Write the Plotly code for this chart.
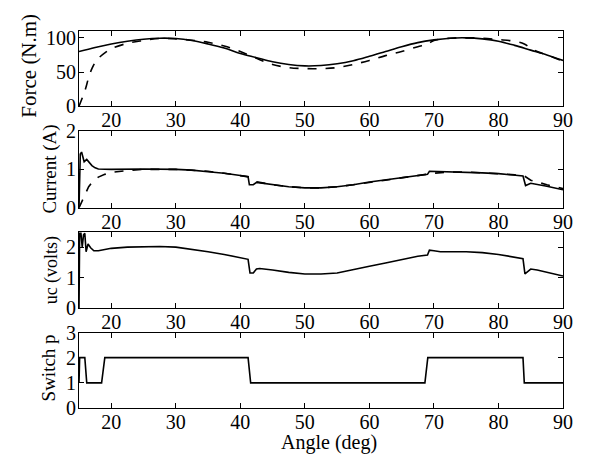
import plotly.graph_objects as go

# ---------------- data ----------------
force_x = [15, 17.5, 20, 22.5, 25, 27.5, 30, 32.5, 35, 37.5, 40, 42.5, 45, 47.5, 50, 52.5, 55, 57.5,
           60, 62.5, 65, 67.5, 70, 72.5, 75, 77.5, 80, 82.5, 85, 87.5, 90]
force_solid = [80, 86, 91, 95, 98, 99.5, 99, 96, 91, 85, 77, 71, 65, 61, 59, 59.5, 62, 66.5,
               73, 80, 87, 93, 97, 99.5, 100, 98.5, 95, 89, 82, 75, 67]

force_dx = [15, 15.5, 16, 16.5, 17, 17.5, 18, 19, 20, 22.5, 25, 27.5, 30, 32.5, 35, 37.5, 40, 42.5,
            45, 47.5, 50, 52.5, 55, 57.5, 60, 62.5, 65, 67.5, 69, 70, 72.5, 75, 77.5, 80, 82.5,
            84, 85, 86, 87.5, 90]
force_dashed = [0, 12, 25, 42, 55, 64, 70, 78, 84, 92, 96, 99, 98.5, 96.5, 93.5, 88, 80, 70,
                61, 56.5, 55, 55, 56.5, 61, 67, 74, 80, 87, 91, 96, 99.5, 100, 99.5, 97.5, 95,
                91, 85, 80, 75, 66]

cur_x = [15, 15.2, 15.4, 15.8, 16.2, 16.6, 17, 17.5, 18, 20, 25, 30, 32.5, 35, 37.5, 40, 41.2,
         41.4, 42, 42.5, 45, 47.5, 50, 52.5, 55, 57.5, 60, 62.5, 65, 67.5, 69, 69.3, 72.5, 75,
         77.5, 80, 82.5, 83.8, 84.2, 85, 87.5, 90]
cur_solid = [0, 1.4, 1.45, 1.2, 1.26, 1.18, 1.1, 1.04, 1.01, 1.0, 1.01, 1.0, 0.98, 0.94, 0.9,
             0.84, 0.81, 0.6, 0.6, 0.66, 0.6, 0.55, 0.52, 0.52, 0.55, 0.6, 0.67, 0.73, 0.78,
             0.84, 0.87, 0.95, 0.94, 0.93, 0.91, 0.89, 0.85, 0.83, 0.58, 0.64, 0.56, 0.47]

cur_dx = [15, 15.5, 16, 16.5, 17, 17.5, 18, 19, 20, 22.5, 25, 30, 32.5, 35, 37.5, 40, 41.5,
          42.5, 45, 47.5, 50, 52.5, 55, 57.5, 60, 62.5, 65, 67.5, 69, 70, 72.5, 75, 77.5, 80,
          82.5, 84, 85, 87.5, 90]
cur_dashed = [0, 0.2, 0.4, 0.55, 0.66, 0.73, 0.8, 0.87, 0.92, 0.97, 1.0, 1.0, 0.98, 0.95, 0.9,
              0.84, 0.8, 0.68, 0.6, 0.55, 0.52, 0.52, 0.55, 0.6, 0.66, 0.72, 0.77, 0.83, 0.86,
              0.9, 0.93, 0.93, 0.91, 0.89, 0.86, 0.83, 0.72, 0.6, 0.5]

uc_x = [15, 15.1, 15.3, 15.5, 15.7, 15.9, 16.1, 16.4, 16.8, 17.3, 18, 19, 20, 22.5, 25, 27.5,
        30, 32.5, 35, 37.5, 40, 41.2, 41.5, 42, 42.5, 43, 45, 47.5, 50, 52.5, 55, 57.5, 60,
        62.5, 65, 67.5, 69, 69.3, 70, 71, 75, 77.5, 80, 82.5, 83.8, 84.1, 84.5, 85, 86, 87.5, 90]
uc_vals = [0, 2.45, 2.45, 2.0, 2.4, 2.45, 1.85, 2.1, 1.98, 1.88, 1.88, 1.93, 1.96, 2.0, 2.02,
           2.02, 2.0, 1.93, 1.85, 1.76, 1.66, 1.6, 1.15, 1.15, 1.28, 1.3, 1.25, 1.17, 1.12,
           1.12, 1.15, 1.25, 1.37, 1.48, 1.6, 1.7, 1.74, 1.9, 1.88, 1.85, 1.85, 1.82, 1.76,
           1.66, 1.62, 1.12, 1.2, 1.28, 1.25, 1.18, 1.05]

sw_x = [15, 15.1, 15.9, 16.2, 18.5, 19.0, 41.2, 41.6, 68.6, 69.05, 83.8, 84.0, 90]
sw_vals = [1, 2, 2, 1, 1, 2, 2, 1, 1, 2, 2, 1, 1]

x_ticks = [20, 30, 40, 50, 60, 70, 80, 90]
y_ticks = [[0, 50, 100], [0, 1, 2], [0, 1, 2], [0, 1, 2, 3]]
y_ranges = [[0, 110], [0, 2], [0, 2.5], [0, 3]]
y_labels = ["Force (N.m)", "Current (A)", "uc (volts)", "Switch p"]
x_label = "Angle (deg)"

# ---------------- figure ----------------
FONT = "Liberation Serif"
fig = go.Figure()
line_solid = dict(color="black", width=1.6)
line_dash = dict(color="black", width=1.6, dash="dash")

fig.add_trace(go.Scatter(x=force_x, y=force_solid, mode="lines", line=dict(line_solid, shape="spline"), xaxis="x", yaxis="y"))
fig.add_trace(go.Scatter(x=force_dx, y=force_dashed, mode="lines", line=dict(line_dash, shape="spline"), xaxis="x", yaxis="y"))
fig.add_trace(go.Scatter(x=cur_x, y=cur_solid, mode="lines", line=line_solid, xaxis="x2", yaxis="y2"))
fig.add_trace(go.Scatter(x=cur_dx, y=cur_dashed, mode="lines", line=line_dash, xaxis="x2", yaxis="y2"))
fig.add_trace(go.Scatter(x=uc_x, y=uc_vals, mode="lines", line=line_solid, xaxis="x3", yaxis="y3"))
fig.add_trace(go.Scatter(x=sw_x, y=sw_vals, mode="lines", line=line_solid, xaxis="x4", yaxis="y4"))

# page body has an 8px default margin -> figure is 584x449 placed at (8, 8)
W, Hfig = 584, 449
L, R, T, B = 71, 29, 19, 49
H = Hfig - T - B
panels_px = [(27, 103), (128, 205.7), (230, 307), (331.7, 408)]   # window pixel rows
domains = [[(408 - b) / H, (408 - t) / H] for t, b in panels_px]

axis_common = dict(showline=True, linecolor="black", linewidth=1, mirror="ticks",
                   ticks="inside", ticklen=5, tickcolor="black", showgrid=False,
                   zeroline=False, tickfont=dict(family=FONT, size=20, color="black"))

layout = dict(width=W, height=Hfig, margin=dict(l=L, r=R, t=T, b=B),
              paper_bgcolor="white", plot_bgcolor="white", showlegend=False,
              font=dict(family=FONT, color="black"))
for i in range(4):
    sx = "" if i == 0 else str(i + 1)
    layout["xaxis" + sx] = dict(axis_common, range=[15, 90], tickvals=x_ticks,
                                domain=[0, 1], anchor="y" + sx, ticklabelstandoff=-4)
    layout["yaxis" + sx] = dict(axis_common, range=y_ranges[i], tickvals=y_ticks[i],
                                domain=domains[i], anchor="x" + sx, ticklabelstandoff=-2)
fig.update_layout(**layout)

label_pos = [(-0.1033, 0.908, 21), (-0.0599, 0.6325, 19), (-0.0579, 0.365, 18), (-0.064, 0.105, 19)]
for (ax, ay, fs), txt in zip(label_pos, y_labels):
    fig.add_annotation(text=txt, xref="paper", yref="paper", x=ax, y=ay, textangle=-90,
                       showarrow=False, xanchor="center", yanchor="middle",
                       font=dict(family=FONT, size=fs, color="black"))
fig.add_annotation(text=x_label, xref="paper", yref="paper", x=0.5155, y=-0.0919,
                   showarrow=False, xanchor="center", yanchor="middle",
                   font=dict(family=FONT, size=20, color="black"))

fig.write_html("out.html")
